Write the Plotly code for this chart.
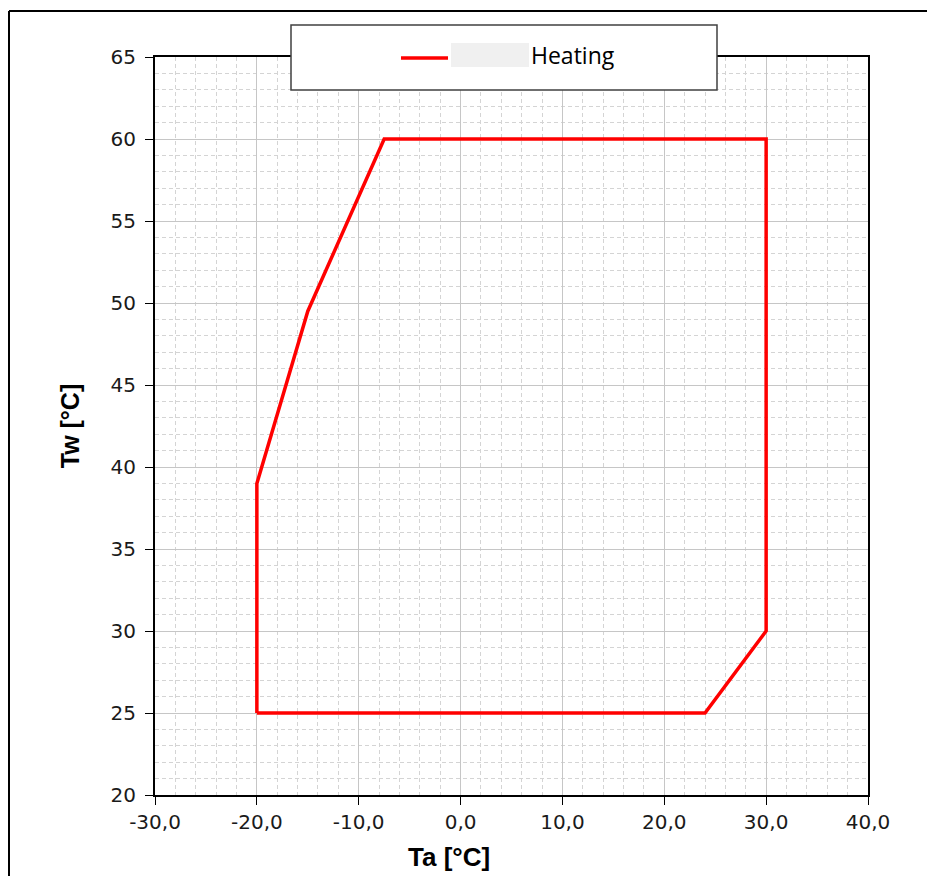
import plotly.graph_objects as go

# operating envelope (Ta, Tw) in heating mode
ta = [-20, 24, 30, 30, -7.5, -15, -20, -20]
tw = [25, 25, 30, 60, 60, 49.5, 39, 25]
series_name = "Heating"

x_tick_vals = [-30, -20, -10, 0, 10, 20, 30, 40]
x_tick_labels = ["-30,0", "-20,0", "-10,0", "0,0", "10,0", "20,0", "30,0", "40,0"]

# page is offset by the 8px body margin
OFF = 8
W, H = 935, 876
pw, ph = 713, 738
L, T = 155 - OFF, 57 - OFF
R, B = W - L - pw, H - T - ph


def px_x(p):
    return (p - OFF - L) / pw


def px_y(p):
    return (T + ph - (p - OFF)) / ph


fig = go.Figure()
fig.add_trace(go.Scatter(
    x=ta, y=tw, mode="lines", name=series_name,
    line=dict(color="#ff0000", width=3.5),
    showlegend=False,
))

tick_font = dict(family="DejaVu Sans", size=20, color="#1a1a1a")
title_font = dict(family="Liberation Sans, Arial", size=25, color="black")
minor_grid = dict(showgrid=True, gridcolor="#d4d4d4", griddash="4px,3px", gridwidth=1)

axis_common = dict(
    showline=True, linecolor="black", linewidth=2, mirror=True,
    ticks="outside", ticklen=8, tickcolor="black", tickwidth=1,
    showgrid=True, gridcolor="#c6c6c6", gridwidth=1,
    zeroline=False, tickfont=tick_font,
)

fig.update_xaxes(
    range=[-30, 40], tickvals=x_tick_vals, ticktext=x_tick_labels,
    minor=dict(dtick=2, tick0=-30, **minor_grid),
    **axis_common,
)
fig.update_yaxes(
    range=[20, 65], dtick=5, tick0=20, ticklabelstandoff=5,
    minor=dict(dtick=1, **minor_grid),
    title=dict(text="<b>Tw [°C]</b>", font=title_font, standoff=24),
    **axis_common,
)

shapes = [
    # outer chart frame (top and left edges visible)
    dict(type="line", xref="paper", yref="paper", x0=px_x(9), x1=px_x(945), y0=px_y(11), y1=px_y(11),
         line=dict(color="black", width=2)),
    dict(type="line", xref="paper", yref="paper", x0=px_x(9), x1=px_x(9), y0=px_y(11), y1=px_y(890),
         line=dict(color="black", width=2)),
    # legend box
    dict(type="rect", xref="paper", yref="paper", x0=px_x(291), x1=px_x(717), y0=px_y(90), y1=px_y(25),
         fillcolor="white", line=dict(color="#404040", width=1.5), layer="above"),
    # legend key
    dict(type="line", xref="paper", yref="paper", x0=px_x(401), x1=px_x(448), y0=px_y(58), y1=px_y(58),
         line=dict(color="#ff0000", width=3.5), layer="above"),
    # greyed-out part of the series name
    dict(type="rect", xref="paper", yref="paper", x0=px_x(451), x1=px_x(529), y0=px_y(67), y1=px_y(43),
         fillcolor="#f0f0f0", line=dict(width=0), layer="above"),
]

fig.update_layout(
    width=W, height=H,
    margin=dict(l=L, r=R, t=T, b=B),
    paper_bgcolor="white", plot_bgcolor="white",
    shapes=shapes,
    annotations=[
        dict(
            text=series_name, xref="paper", yref="paper", x=px_x(529), y=px_y(55),
            xanchor="left", yanchor="middle", showarrow=False,
            font=dict(family="Open Sans, Noto Sans", size=23, color="black"),
        ),
        # x-axis title sits left of centre in the original
        dict(
            text="<b>Ta [°C]</b>", xref="paper", yref="paper", x=px_x(449), y=px_y(857),
            xanchor="center", yanchor="middle", showarrow=False,
            font=dict(family="Liberation Sans, Arial", size=26, color="black"),
        ),
    ],
)

fig.write_html("out.html")
